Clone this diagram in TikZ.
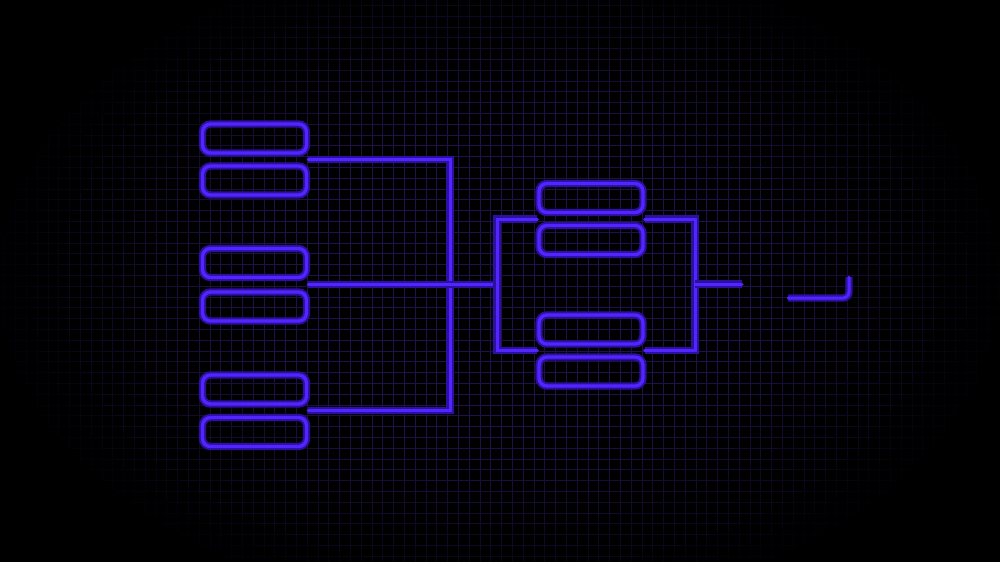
\documentclass[tikz,border=0pt]{standalone}
\usetikzlibrary{calc}
\definecolor{neon}{RGB}{82,36,255}
\definecolor{neonglow}{RGB}{44,16,160}
\definecolor{gridc}{RGB}{32,17,76}
\tikzset{
  glow/.style={preaction={draw=neonglow, line width=4.2pt}},
  box/.style={rectangle, rounded corners=0.16cm, draw=neon, line width=1.9pt,
    minimum width=2.08cm, minimum height=0.58cm, inner sep=0pt, glow},
  wire/.style={draw=neon, line width=1.7pt, line cap=round, glow},
  gridline/.style={line width=0.5pt}
}
\begin{document}
\begin{tikzpicture}[x=0.02cm, y=-0.02cm]
\fill[black] (0,0) rectangle (1000,562);
\useasboundingbox (0,0) rectangle (1000,562);
% faint grid fading towards the edges
\foreach \a/\b/\p in {10.0cm/6.6cm/12, 9.4cm/6.2cm/22, 8.8cm/5.8cm/34, 8.2cm/5.4cm/46, 7.6cm/4.9cm/58, 7.0cm/4.5cm/70, 6.4cm/4.1cm/80, 5.8cm/3.7cm/90, 5.2cm/3.3cm/100}{
  \begin{scope}
    \clip (500,281) ellipse [x radius=\a, y radius=\b];
    \draw[gridline, draw=gridc!\p!black]
      foreach \i in {0,...,92} {(4.8+10.8*\i,0) -- (4.8+10.8*\i,562)}
      foreach \j in {0,...,52} {(0,5.5+10.8*\j) -- (1000,5.5+10.8*\j)};
  \end{scope}
}
% left column
\node[box] (L1) at (254.5,138.5) {};
\node[box] (L2) at (254.5,180.5) {};
\node[box] (L3) at (254.5,263) {};
\node[box] (L4) at (254.5,306.5) {};
\node[box] (L5) at (254.5,389.5) {};
\node[box] (L6) at (254.5,432) {};
% middle column
\node[box] (M1) at (591,198) {};
\node[box] (M2) at (591,240) {};
\node[box] (M3) at (591,329.5) {};
\node[box] (M4) at (591,371.5) {};
% junction coordinates
\coordinate (s1) at ($(L1.south east)!.5!(L2.north east)$);
\coordinate (s2) at ($(L3.south east)!.5!(L4.north east)$);
\coordinate (s3) at ($(L5.south east)!.5!(L6.north east)$);
\coordinate (v) at (450,287);
\coordinate (bx) at (497,287);
\coordinate (b) at (bx |- s2);
\coordinate (q1) at ($(M1.south west)!.5!(M2.north west)$);
\coordinate (q2) at ($(M3.south west)!.5!(M4.north west)$);
\coordinate (r1) at ($(M1.south east)!.5!(M2.north east)$);
\coordinate (r2) at ($(M3.south east)!.5!(M4.north east)$);
\coordinate (c) at (695,284);
\coordinate (out) at (742,284);
\coordinate (f1) at (788,298);
\coordinate (f2) at (849,277);
% connectors
\draw[wire] (s1) -- (s1 -| v) -- (s3 -| v) -- (s3);
\draw[wire] (s2) -- (b);
\draw[wire] (q1) -- (q1 -| b) -- (q2 -| b) -- (q2);
\draw[wire] (r1) -- (r1 -| c) -- (r2 -| c) -- (r2);
\draw[wire] (c) -- (out);
\draw[wire, rounded corners=0.12cm] (f1) -| (f2);
\end{tikzpicture}
\end{document}
